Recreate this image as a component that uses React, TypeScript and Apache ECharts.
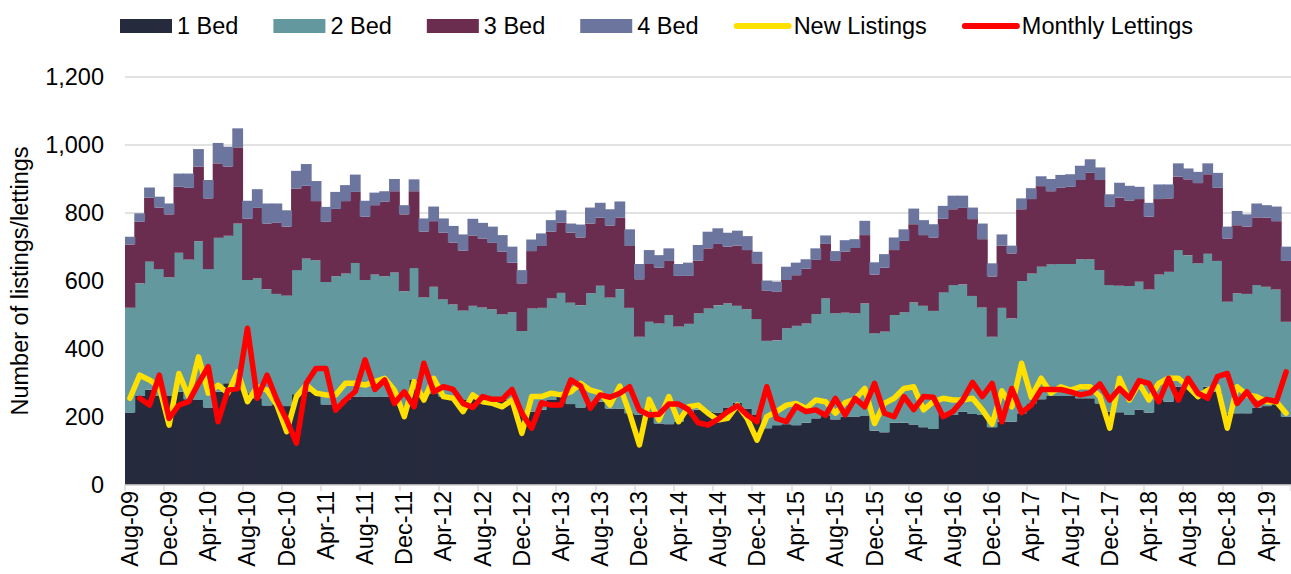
import React, { useEffect, useRef } from "react";
import * as echarts from "echarts";

const monthNames = ["Jan", "Feb", "Mar", "Apr", "May", "Jun", "Jul", "Aug", "Sep", "Oct", "Nov", "Dec"];
// Aug-09 .. Jun-19 (119 months)
const categories: string[] = [];
for (let k = 0; k < 119; k++) {
  const m = (7 + k) % 12;
  const y = 9 + Math.floor((7 + k) / 12);
  categories.push(`${monthNames[m]}-${String(y).padStart(2, "0")}`);
}

const oneBed = [
  213, 262, 280, 262, 262, 274, 252, 250, 228, 274, 299, 289, 270, 255, 234, 238, 232, 267, 274, 274,
  237, 237, 250, 260, 260, 260, 260, 265, 230, 310, 265, 270, 260, 260, 250, 255, 255, 255, 250, 250,
  216, 216, 221, 250, 270, 238, 228, 240, 245, 225, 225, 211, 206, 211, 181, 179, 186, 211, 221, 216,
  213, 228, 242, 225, 206, 167, 176, 179, 176, 183, 196, 205, 193, 201, 201, 203, 160, 155, 183, 183,
  178, 170, 165, 209, 206, 216, 209, 206, 170, 186, 186, 211, 240, 252, 262, 262, 262, 255, 255, 240,
  216, 214, 206, 222, 213, 250, 245, 289, 289, 271, 289, 274, 210, 211, 211, 228, 232, 242, 201,
];
const twoBed = [
  308, 331, 377, 373, 349, 409, 411, 467, 407, 453, 434, 480, 333, 353, 342, 324, 325, 365, 392, 387,
  360, 377, 372, 393, 343, 359, 354, 360, 340, 328, 287, 313, 286, 271, 263, 272, 267, 262, 252, 258,
  237, 303, 300, 299, 295, 298, 301, 324, 341, 326, 351, 310, 230, 269, 294, 321, 280, 263, 284, 303,
  316, 306, 285, 292, 282, 257, 250, 282, 292, 292, 307, 344, 312, 306, 304, 331, 286, 296, 317, 325,
  359, 357, 347, 357, 382, 374, 347, 316, 266, 335, 304, 389, 382, 390, 387, 388, 388, 409, 409, 392,
  372, 372, 379, 376, 362, 369, 382, 402, 387, 381, 391, 385, 329, 353, 351, 360, 351, 333, 279,
];
const threeBed = [
  186, 181, 188, 181, 185, 194, 211, 219, 208, 219, 203, 224, 180, 207, 193, 209, 203, 240, 214, 174,
  177, 198, 213, 209, 186, 204, 219, 239, 226, 226, 193, 193, 196, 182, 176, 207, 203, 195, 184, 146,
  140, 169, 182, 196, 207, 206, 199, 205, 200, 212, 210, 182, 169, 170, 164, 159, 149, 141, 155, 177,
  180, 167, 177, 174, 164, 147, 142, 142, 149, 161, 159, 160, 154, 179, 192, 201, 173, 188, 191, 210,
  230, 208, 216, 217, 223, 225, 226, 201, 177, 183, 191, 211, 219, 237, 215, 224, 227, 233, 254, 265,
  230, 259, 251, 243, 214, 222, 216, 216, 223, 236, 234, 215, 186, 200, 198, 199, 203, 201, 179,
];
const fourBed = [
  23, 25, 30, 32, 32, 39, 42, 52, 54, 60, 59, 56, 53, 55, 59, 57, 48, 52, 64, 59,
  44, 50, 47, 51, 47, 37, 31, 36, 27, 35, 39, 43, 42, 49, 48, 49, 46, 48, 49, 47,
  39, 34, 37, 34, 36, 27, 38, 47, 44, 48, 48, 49, 45, 41, 37, 37, 35, 39, 46, 49,
  46, 41, 44, 41, 34, 30, 30, 39, 37, 28, 34, 25, 29, 34, 26, 42, 36, 40, 37, 34,
  46, 44, 39, 38, 40, 36, 34, 46, 39, 33, 23, 32, 32, 29, 36, 38, 37, 42, 40, 37,
  37, 44, 44, 36, 41, 43, 41, 39, 32, 33, 32, 44, 35, 42, 36, 41, 37, 43, 42,
];
const newListings = [
  255, 323, 309, 289, 176, 328, 260, 377, 270, 294, 270, 333, 245, 289, 279, 235, 157, 260, 294, 270,
  265, 265, 299, 299, 294, 304, 314, 279, 201, 304, 250, 314, 260, 255, 216, 265, 245, 240, 230, 250,
  152, 260, 260, 270, 265, 274, 299, 279, 271, 235, 291, 211, 118, 252, 191, 260, 186, 230, 235, 211,
  191, 196, 235, 196, 132, 201, 216, 235, 240, 225, 250, 245, 211, 242, 252, 284, 181, 240, 255, 284,
  289, 221, 245, 255, 250, 250, 255, 221, 179, 277, 230, 358, 258, 314, 270, 289, 279, 289, 289, 260,
  167, 314, 250, 299, 250, 299, 314, 314, 289, 260, 279, 289, 167, 289, 265, 260, 245, 245, 211,
];
const monthlyLettings = [
  null, 255, 235, 323, 196, 235, 245, 299, 348, 186, 279, 284, 461, 255, 323, 250, 191, 123, 299, 343,
  343, 220, 250, 275, 368, 281, 309, 240, 274, 230, 358, 274, 289, 281, 240, 228, 260, 252, 252, 281,
  211, 167, 242, 235, 235, 309, 291, 226, 265, 258, 270, 289, 220, 206, 208, 238, 238, 222, 183, 176,
  193, 216, 233, 206, 186, 289, 196, 186, 232, 216, 221, 205, 255, 206, 255, 230, 299, 211, 201, 260,
  222, 260, 258, 201, 216, 250, 302, 260, 299, 186, 284, 213, 235, 281, 281, 281, 274, 265, 271, 297,
  250, 284, 255, 307, 299, 245, 314, 250, 314, 270, 255, 319, 328, 240, 274, 235, 252, 245, 333,
];

const yTicks = [0, 200, 400, 600, 800, 1000, 1200];

const FONT = 'Arial, "Liberation Sans", sans-serif';
const FS = 23.5;

export default function App() {
  const ref = useRef<HTMLDivElement>(null);
  useEffect(() => {
    if (!ref.current) return;
    const chart = echarts.init(ref.current, null, { renderer: "svg" });
    const barSeries = (name: string, data: number[], color: string) => ({
      name,
      type: "bar",
      stack: "beds",
      data,
      barWidth: 10.8,
      itemStyle: { color },
      emphasis: { disabled: true },
    });
    const lineLegend = (name: string, color: string) => ({
      name,
      itemStyle: { opacity: 0 },
      lineStyle: { color, width: 6, cap: "round" },
    });
    chart.setOption({
      animation: false,
      textStyle: { fontFamily: FONT },
      legend: {
        left: 115,
        top: 9,
        itemWidth: 52,
        itemHeight: 14,
        itemGap: 35,
        textStyle: { fontSize: FS, color: "#000", fontFamily: FONT },
        data: [
          { name: "1 Bed", icon: "rect" },
          { name: "2 Bed", icon: "rect" },
          { name: "3 Bed", icon: "rect" },
          { name: "4 Bed", icon: "rect" },
          lineLegend("New Listings", "#ffe000"),
          lineLegend("Monthly Lettings", "#ff0000"),
        ],
      },
      grid: { left: 122, top: 77, width: 1171.5, height: 408 },
      xAxis: {
        type: "category",
        data: categories,
        boundaryGap: true,
        axisLine: { show: true, lineStyle: { color: "#d9d9d9", width: 1.5 } },
        axisTick: { show: true, interval: 3, alignWithLabel: false, length: 6, lineStyle: { color: "#d9d9d9", width: 1.5 } },
        axisLabel: { interval: 3, rotate: 90, margin: 6, fontSize: FS, color: "#000", fontFamily: FONT },
        z: 10,
      },
      yAxis: {
        type: "value",
        min: yTicks[0],
        max: yTicks[yTicks.length - 1],
        interval: 200,
        name: "Number of listings/lettings",
        nameLocation: "middle",
        nameGap: 93,
        nameTextStyle: { fontSize: FS, color: "#000", fontFamily: FONT },
        axisLine: { show: false },
        axisTick: { show: false },
        splitLine: { lineStyle: { color: "#d9d9d9", width: 1.5 } },
        axisLabel: {
          fontSize: FS,
          color: "#000",
          fontFamily: FONT,
          margin: 21,
          formatter: (v: number) => v.toLocaleString("en-US"),
        },
      },
      series: [
        barSeries("1 Bed", oneBed, "#262a3d"),
        barSeries("2 Bed", twoBed, "#63989f"),
        barSeries("3 Bed", threeBed, "#6b2d4f"),
        barSeries("4 Bed", fourBed, "#6b759e"),
        {
          name: "New Listings",
          type: "line",
          data: newListings,
          symbol: "none",
          showSymbol: false,
          itemStyle: { color: "#ffe000" },
          lineStyle: { color: "#ffe000", width: 5.5, join: "round", cap: "round" },
          emphasis: { disabled: true },
          z: 3,
        },
        {
          name: "Monthly Lettings",
          type: "line",
          data: monthlyLettings,
          symbol: "none",
          showSymbol: false,
          itemStyle: { color: "#ff0000" },
          lineStyle: { color: "#ff0000", width: 5.5, join: "round", cap: "round" },
          emphasis: { disabled: true },
          z: 4,
        },
      ],
    });
    return () => chart.dispose();
  }, []);
  return (
    <div
      ref={ref}
      style={{ position: "absolute", left: 0, top: 0, width: 1291, height: 574, background: "#fff" }}
    />
  );
}
